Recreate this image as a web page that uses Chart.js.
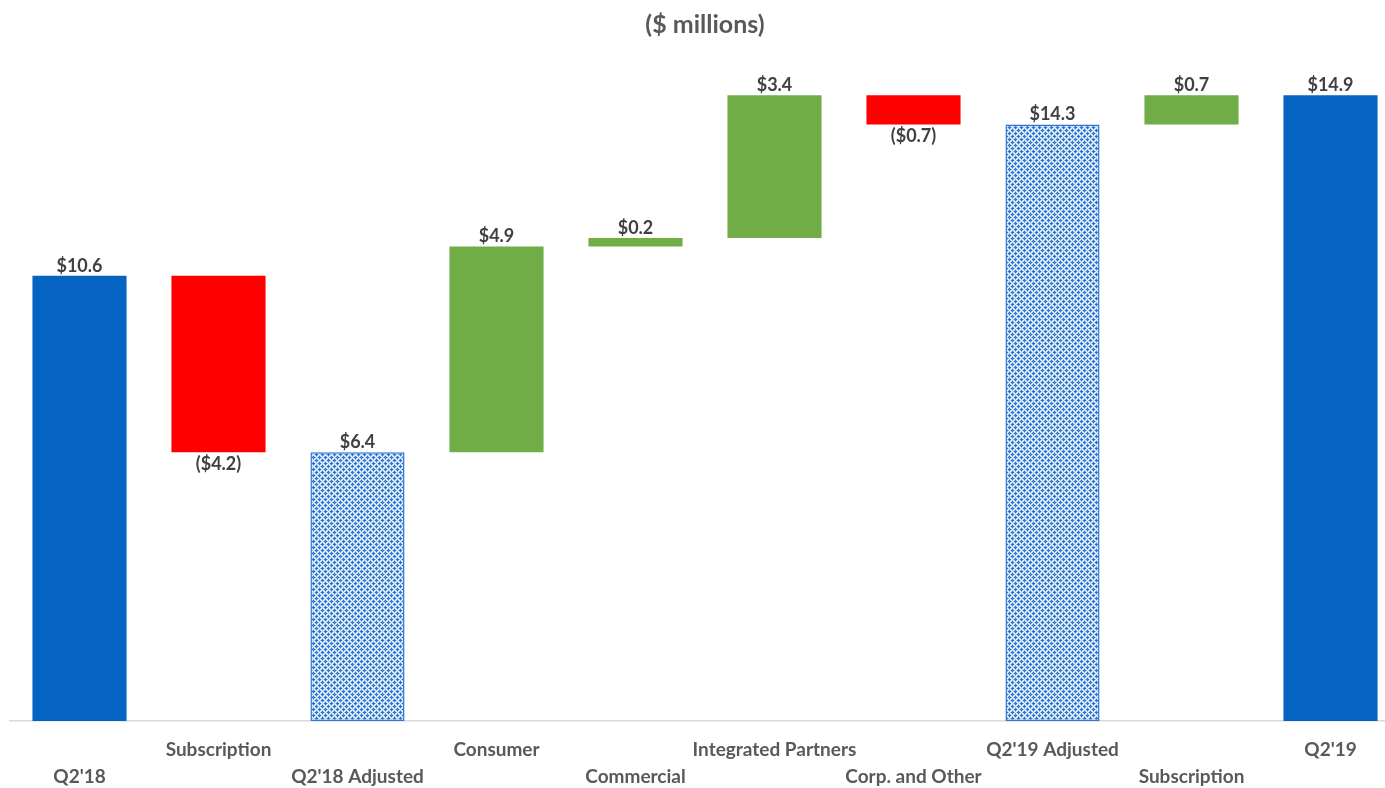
<!DOCTYPE html>
<html>
<head>
<meta charset="utf-8">
<script src="https://cdn.jsdelivr.net/npm/chart.js@4"></script>
<style>
  html, body { margin: 0; padding: 0; background: #fff; overflow: hidden; }
  #wrap { width: 1400px; height: 788px; }
</style>
</head>
<body>
<div id="wrap"><canvas id="myChart"></canvas></div>
<script>
// categories (two rows of labels on the axis)
const categories = ["Q2'18", 'Subscription', "Q2'18 Adjusted", 'Consumer', 'Commercial',
  'Integrated Partners', 'Corp. and Other', "Q2'19 Adjusted", 'Subscription', "Q2'19"];
// bar ranges [start, end] in $ millions
const lows  = [0,    6.4,  0,   6.4,  11.3, 11.5, 14.2, 0,    14.2, 0];
const highs = [10.6, 10.6, 6.4, 11.3, 11.5, 14.9, 14.9, 14.2, 14.9, 14.9];
const valueLabels = ['$10.6', '($4.2)', '$6.4', '$4.9', '$0.2', '$3.4', '($0.7)', '$14.3', '$0.7', '$14.9'];
const kinds = ['total', 'down', 'adjusted', 'up', 'up', 'up', 'down', 'adjusted', 'up', 'total'];

function hatch() {
  const c = document.createElement('canvas');
  c.width = 6; c.height = 6;
  const g = c.getContext('2d');
  g.fillStyle = '#ffffff';
  g.fillRect(0, 0, 6, 6);
  g.fillStyle = '#9dc3e6';
  for (let i = 0; i < 6; i++) for (let j = 0; j < 6; j++) if ((i + j) % 2 === 0) g.fillRect(i, j, 1, 1);
  g.fillStyle = '#2e75d6';
  [[1, 1], [0, 1], [2, 1], [1, 0], [1, 2], [4, 4], [3, 4], [5, 4], [4, 3], [4, 5]].forEach(p => g.fillRect(p[0], p[1], 1, 1));
  return g.createPattern(c, 'repeat');
}
const pat = hatch();

const fill = { total: '#0563c1', down: '#ff0000', up: '#70ad47', adjusted: pat };
const border = { total: '#0563c1', down: '#ff0000', up: '#70ad47', adjusted: '#2e75d6' };

const valueLabelPlugin = {
  id: 'valueLabels',
  afterDatasetsDraw(chart) {
    const ctx = chart.ctx;
    const meta = chart.getDatasetMeta(0);
    ctx.save();
    ctx.font = 'bold 18px Lato';
    ctx.fillStyle = '#404040';
    ctx.textAlign = 'center';
    meta.data.forEach((bar, i) => {
      if (kinds[i] === 'down') {
        ctx.textBaseline = 'top';
        ctx.fillText(valueLabels[i], bar.x, Math.max(bar.y, bar.base) + 3);
      } else {
        ctx.textBaseline = 'bottom';
        ctx.fillText(valueLabels[i], bar.x, Math.min(bar.y, bar.base) - 1);
      }
    });
    ctx.restore();
  }
};

new Chart(document.getElementById('myChart'), {
  type: 'bar',
  data: {
    labels: categories.map((c, i) => i % 2 === 0 ? ['', c] : [c, '']),
    datasets: [{
      data: lows.map((l, i) => [l, highs[i]]),
      backgroundColor: kinds.map(k => fill[k]),
      borderColor: kinds.map(k => border[k]),
      borderWidth: kinds.map(k => k === 'adjusted' ? 1.5 : 0),
      borderSkipped: false,
      barPercentage: 1,
      categoryPercentage: 0.677
    }]
  },
  options: {
    responsive: true,
    maintainAspectRatio: false,
    animation: false,
    layout: { padding: { left: 10, right: 0, top: 0, bottom: 0 } },
    plugins: {
      legend: { display: false },
      tooltip: { enabled: false },
      title: {
        display: true,
        text: '($ millions)',
        color: '#595959',
        font: { family: 'Lato', size: 25, weight: 'bold' },
        padding: { top: 10, bottom: 30 }
      }
    },
    scales: {
      x: {
        grid: { display: false, drawTicks: false },
        border: { color: '#d9d9d9', width: 1.5 },
        afterFit(scale) { scale.height = 67; },
        ticks: {
          color: '#595959',
          font: { family: 'Lato', size: 19, weight: 'bold', lineHeight: 1.4 },
          padding: 16,
          maxRotation: 0,
          autoSkip: false
        }
      },
      y: {
        display: false,
        min: 0,
        max: 15.5
      }
    }
  },
  plugins: [valueLabelPlugin]
});
</script>
</body>
</html>
